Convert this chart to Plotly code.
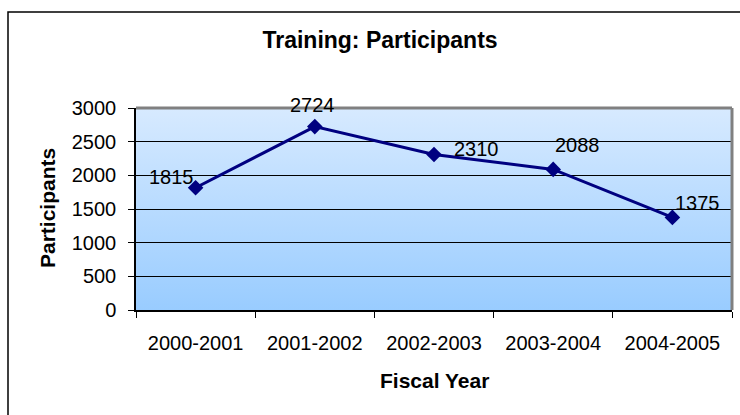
import base64
import plotly.graph_objects as go

# ---- data ----
fiscal_years = ["2000-2001", "2001-2002", "2002-2003", "2003-2004", "2004-2005"]
participants = [1815, 2724, 2310, 2088, 1375]
y_ticks = [0, 500, 1000, 1500, 2000, 2500, 3000]

title_text = "Training: Participants"
x_title = "Fiscal Year"
y_title = "Participants"

FONT = "Liberation Sans, Arial, sans-serif"

W, H = 740, 415
L, R, T, B = 136, 8, 108, 105
PW, PH = W - L - R, H - T - B


def px_x(p):
    return (p - L) / PW


def px_y(p):
    return (H - B - p) / PH


fig = go.Figure()
fig.add_trace(go.Scatter(
    x=fiscal_years, y=participants, mode="lines+markers",
    line=dict(color="#000080", width=3),
    marker=dict(symbol="diamond", size=12, color="#000080"),
    hoverinfo="x+y", showlegend=False,
))

# gradient background for plot area
svg = ('<svg xmlns="http://www.w3.org/2000/svg" width="100" height="100" preserveAspectRatio="none">'
       '<defs><linearGradient id="g" x1="0" y1="0" x2="0" y2="1">'
       '<stop offset="0" stop-color="#D7EAFF"/><stop offset="1" stop-color="#99CCFF"/>'
       '</linearGradient></defs><rect width="100" height="100" fill="url(#g)"/></svg>')
uri = "data:image/svg+xml;base64," + base64.b64encode(svg.encode()).decode()
fig.add_layout_image(dict(source=uri, xref="x domain", yref="y domain", x=0, y=1,
                          sizex=1, sizey=1, sizing="stretch", xanchor="left",
                          yanchor="top", layer="below"))

# data labels (Excel-like placement)
offsets = [(-24, 11), (-2, 22), (42, 5), (24, 24), (25, 14)]
for cat, val, (dx, dy) in zip(fiscal_years, participants, offsets):
    fig.add_annotation(x=cat, y=val, text=str(val), showarrow=False,
                       xanchor="center", yanchor="middle",
                       xshift=dx, yshift=dy, font=dict(family=FONT, size=20, color="#000"))

# axis titles
fig.add_annotation(xref="paper", yref="paper", x=px_x(434), y=px_y(380), text="<b>%s</b>" % x_title,
                   xanchor="center", yanchor="middle",
                   showarrow=False, font=dict(family=FONT, size=21, color="#000"))
fig.add_annotation(xref="paper", yref="paper", x=px_x(47), y=px_y(208), text="<b>%s</b>" % y_title,
                   xanchor="center", yanchor="middle",
                   textangle=-90, showarrow=False, font=dict(family=FONT, size=21, color="#000"))

# chart frame
fig.add_shape(type="rect", xref="paper", yref="paper", x0=px_x(8), x1=px_x(760),
              y0=px_y(430), y1=px_y(12), line=dict(color="#000", width=1.5), layer="below")
# plot area gray border (top and right)
fig.add_shape(type="line", xref="paper", yref="paper", x0=0, x1=1, y0=1, y1=1,
              line=dict(color="#808080", width=3))
fig.add_shape(type="line", xref="paper", yref="paper", x0=1, x1=1, y0=0, y1=1,
              line=dict(color="#808080", width=3))

fig.update_layout(
    width=W, height=H,
    margin=dict(l=L, r=R, t=T, b=B),
    paper_bgcolor="white", plot_bgcolor="rgba(0,0,0,0)",
    font=dict(family=FONT, size=20, color="#000"),
    title=dict(text="<b>%s</b>" % title_text, x=380 / W, xref="container", xanchor="center",
               y=1 - 40 / H, yref="container", yanchor="middle",
               font=dict(family=FONT, size=23, color="#000")),
    xaxis=dict(type="category", range=[-0.5, len(fiscal_years) - 0.5],
               tickson="boundaries", ticks="outside", ticklen=6,
               tickcolor="#000", showline=True, linecolor="#000", linewidth=1.5,
               showgrid=False, ticklabelstandoff=14, tickfont=dict(size=20)),
    yaxis=dict(range=[0, 3000], tickvals=y_ticks, ticks="outside", ticklen=6,
               tickcolor="#000", showline=True, linecolor="#000", linewidth=1.5,
               showgrid=True, gridcolor="#000", gridwidth=1, zeroline=False,
               ticklabelstandoff=8, tickfont=dict(size=20)),
)

fig.write_html("out.html", config={"displayModeBar": False},
               post_script="document.body.style.margin='0';document.body.style.overflow='hidden';")
